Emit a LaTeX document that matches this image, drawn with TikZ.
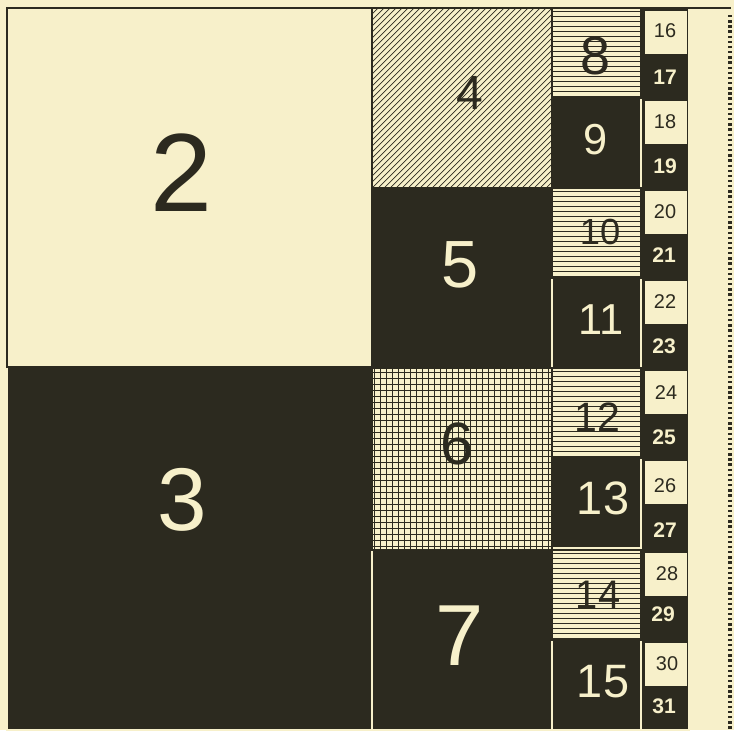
\documentclass[tikz,border=0pt]{standalone}
\usepackage{fontspec}
\setmainfont{Liberation Sans}
\definecolor{paper}{RGB}{247,240,202}
\definecolor{ink}{RGB}{44,42,31}
\newcommand{\numsize}[1]{\fontsize{#1}{#1}\selectfont}
\tikzset{
  darkcell/.style={fill=ink,draw=paper,line width=1pt},
  lightcell/.style={draw=ink,line width=1.2pt},
  rule/.style={draw=ink,line width=0.6pt},
  onlight/.style={text=ink,inner sep=0pt},
  ondark/.style={text=paper,inner sep=0pt},
}
\begin{document}
\begin{tikzpicture}[x=0.03cm,y=-0.03cm]
\fill[paper] (0,0) rectangle (734,730);
% dark squares
\path[darkcell] (7,367) rectangle (372,730);
\path[darkcell] (372,188) rectangle (552,368);
\path[darkcell] (372,550) rectangle (552,730);
\foreach \top in {98,278,458,640}
  \path[darkcell] (552,\top) rectangle (641,\top+90);
\path[darkcell] (641,8) rectangle (689,730);
% ruled squares
\begin{scope}
  \clip (372,8) rectangle (552,188);
  \foreach \k in {0,6,...,366}
    \draw[rule] (192+\k,188) -- ++(180,-180);
\end{scope}
\begin{scope}
  \clip (372,368) rectangle (552,550);
  \foreach \k in {374,380,...,552}
    \draw[rule] (\k,368) -- (\k,550);
  \foreach \k in {372,378,...,550}
    \draw[rule] (372,\k) -- (552,\k);
\end{scope}
\foreach \top in {8,188,368,550} {
  \begin{scope}
    \clip (552,\top) rectangle (641,\top+90);
    \foreach \k in {3,8,...,90}
      \draw[rule] (552,\top+\k) -- (641,\top+\k);
  \end{scope}
}
% light boxes of the narrow column
\foreach \top in {10,100,190,280,370,460,552,642}
  \path[lightcell,fill=paper,line width=0.8pt] (644,\top) rectangle (687,\top+44);
% outlines of light squares
\path[lightcell] (7,8) rectangle (372,367);
\path[lightcell] (372,8) rectangle (552,188);
\path[lightcell] (372,368) rectangle (552,550);
\foreach \top in {8,188,368,550}
  \path[lightcell] (552,\top) rectangle (641,\top+90);
\draw[ink,line width=1.6pt] (7,8) -- (731,8);
\draw[ink,line width=2.6pt,dash pattern=on 2pt off 2.4pt] (730,15) -- (730,730);
% numbers
\node[onlight,font=\numsize{95}] (n2) at (181,173) {2};
\node[ondark,font=\numsize{76}] (n3) at (182,500) {3};
\node[onlight,font=\numsize{41}] (n4) at (470,93) {4};
\node[ondark,font=\numsize{57}] (n5) at (460,265) {5};
\node[onlight,font=\numsize{51}] (n6) at (457,444) {6};
\node[ondark,font=\numsize{74}] (n7) at (460,636) {7};
\node[onlight,font=\numsize{46}] (n8) at (595,56) {8};
\node[ondark,font=\numsize{37}] (n9) at (596,140) {9};
\node[onlight,font=\numsize{31}] (n10) at (600,232) {10};
\node[ondark,font=\numsize{37}] (n11) at (601,320) {11};
\node[onlight,font=\numsize{35}] (n12) at (597,417) {12};
\node[ondark,font=\numsize{40}] (n13) at (603,498) {13};
\node[onlight,font=\numsize{34}] (n14) at (598,595) {14};
\node[ondark,font=\numsize{40}] (n15) at (603,682) {15};
\node[onlight,font=\numsize{17}] (n16) at (665,31) {16};
\node[ondark,font=\numsize{18}\bfseries] (n17) at (665,77) {17};
\node[onlight,font=\numsize{17}] (n18) at (665,122) {18};
\node[ondark,font=\numsize{18}\bfseries] (n19) at (665,166) {19};
\node[onlight,font=\numsize{17}] (n20) at (665,212) {20};
\node[ondark,font=\numsize{18}\bfseries] (n21) at (664,255) {21};
\node[onlight,font=\numsize{17}] (n22) at (665,302) {22};
\node[ondark,font=\numsize{18}\bfseries] (n23) at (664,346) {23};
\node[onlight,font=\numsize{17}] (n24) at (666,393) {24};
\node[ondark,font=\numsize{18}\bfseries] (n25) at (664,437) {25};
\node[onlight,font=\numsize{17}] (n26) at (665,486) {26};
\node[ondark,font=\numsize{18}\bfseries] (n27) at (665,530) {27};
\node[onlight,font=\numsize{17}] (n28) at (667,574) {28};
\node[ondark,font=\numsize{18}\bfseries] (n29) at (663,614) {29};
\node[onlight,font=\numsize{17}] (n30) at (667,664) {30};
\node[ondark,font=\numsize{18}\bfseries] (n31) at (664,706) {31};
\end{tikzpicture}
\end{document}
